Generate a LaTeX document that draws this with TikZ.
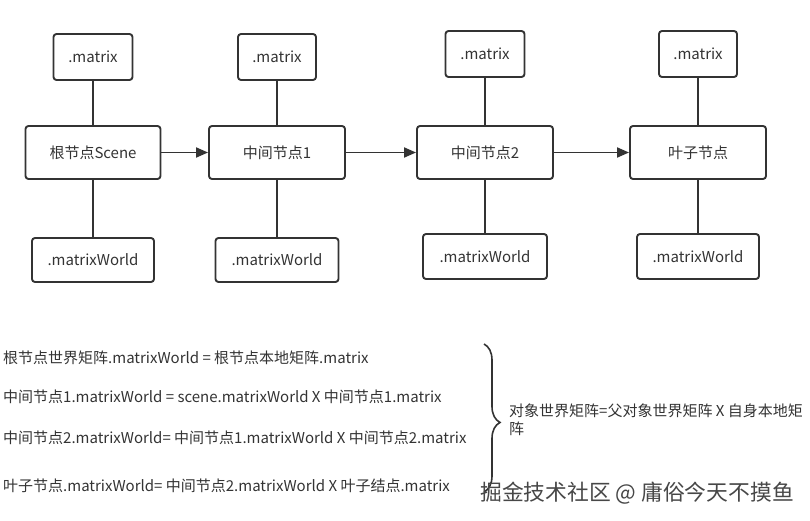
\documentclass[tikz,border=0pt]{standalone}
\usepackage{fontspec}
\newfontfamily\cjk{Noto Sans CJK SC}
\usetikzlibrary{arrows.meta,decorations.pathreplacing}
\definecolor{ink}{HTML}{333333}
\begin{document}
\begin{tikzpicture}[x=1pt,y=-1pt,
  every node/.style={font=\cjk\fontsize{15}{18}\selectfont, text=ink},
  box/.style={draw=ink, line width=1.9pt, rounded corners=3pt, inner sep=0pt},
  link/.style={draw=ink, line width=1.9pt},
  flow/.style={draw=ink, line width=1.9pt, -{Triangle[length=12pt,width=10pt]}},
  eqn/.style={anchor=west, inner sep=0pt, font=\cjk\fontsize{15}{18}\selectfont},
  wm/.style={font=\cjk\fontsize{21.8}{26}\selectfont, text=black!72}
]
\useasboundingbox (0,0) rectangle (810,521);

% column 1
\node[box, minimum width=79pt, minimum height=46pt] (m1) at (93,57) {.matrix};
\node[box, minimum width=135pt, minimum height=53pt] (n1) at (93,152.5) {根节点Scene};
\node[box, minimum width=122pt, minimum height=44pt] (w1) at (93,260) {.matrixWorld};
% column 2
\node[box, minimum width=78pt, minimum height=46pt] (m2) at (277,57) {.matrix};
\node[box, minimum width=136pt, minimum height=53pt] (n2) at (277,152.5) {中间节点1};
\node[box, minimum width=123pt, minimum height=44pt] (w2) at (277,260) {.matrixWorld};
% column 3
\node[box, minimum width=79pt, minimum height=46pt] (m3) at (485,54) {.matrix};
\node[box, minimum width=136pt, minimum height=53pt] (n3) at (485,152.5) {中间节点2};
\node[box, minimum width=124pt, minimum height=45pt] (w3) at (485,256.5) {.matrixWorld};
% column 4
\node[box, minimum width=78pt, minimum height=46pt] (m4) at (698,54) {.matrix};
\node[box, minimum width=136pt, minimum height=53pt] (n4) at (698,152.5) {叶子节点};
\node[box, minimum width=122pt, minimum height=45pt] (w4) at (698,256.5) {.matrixWorld};

\foreach \i in {1,2,3,4} {
  \draw[link] (m\i) -- (n\i);
  \draw[link] (n\i) -- (w\i);
}
\draw[flow] (n1) -- (n2);
\draw[flow] (n2) -- (n3);
\draw[flow] (n3) -- (n4);

% equations
\node[eqn] (e1) at (3,358) {根节点世界矩阵.matrixWorld = 根节点本地矩阵.matrix};
\node[eqn] (e2) at (3,397) {中间节点1.matrixWorld = scene.matrixWorld X 中间节点1.matrix};
\node[eqn] (e3) at (3,438) {中间节点2.matrixWorld= 中间节点1.matrixWorld X 中间节点2.matrix};
\node[eqn] (e4) at (3,486) {叶子节点.matrixWorld= 中间节点2.matrixWorld X 叶子结点.matrix};

% brace
\coordinate (bt) at (484,344);
\coordinate (bb) at (484,492);
\draw[link, line width=1.6pt, decorate, decoration={brace, amplitude=16pt, aspect=0.53}] (bt) -- (bb);
\node[anchor=north west, align=left, inner sep=0pt, font=\cjk\fontsize{15}{18}\selectfont] (rule) at (509,404) {对象世界矩阵=父对象世界矩阵 X 自身本地矩\\阵};

% watermark
\node[wm, anchor=west, inner sep=0pt] (mark) at (480,493) {掘金技术社区 @ 庸俗今天不摸鱼};
\end{tikzpicture}
\end{document}
